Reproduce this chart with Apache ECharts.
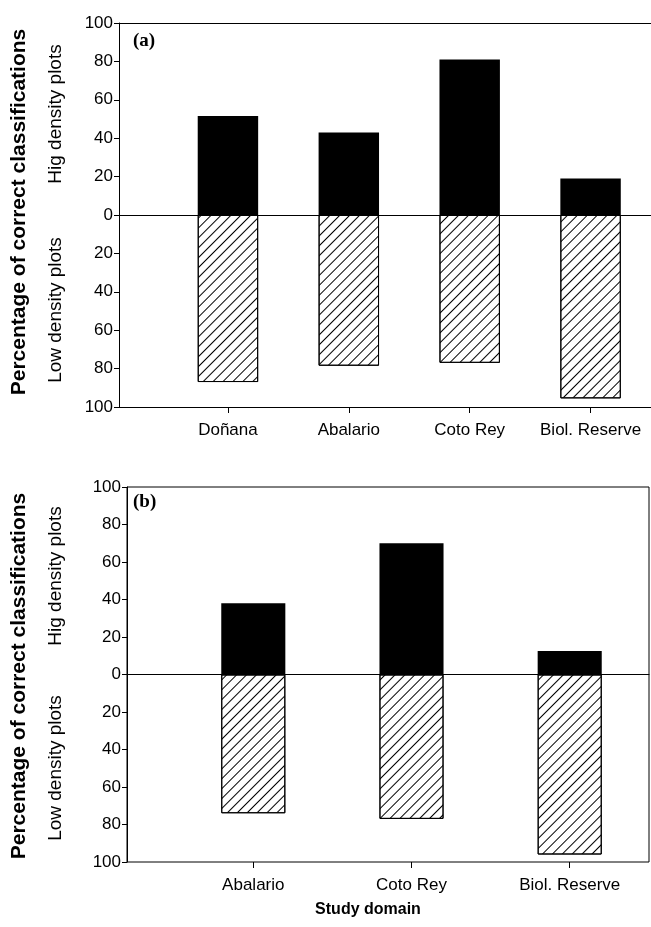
<!DOCTYPE html>
<html><head><meta charset="utf-8">
<script src="https://cdn.jsdelivr.net/npm/echarts@6/dist/echarts.min.js"></script>
<style>html,body{margin:0;padding:0;background:#fff}#c{width:651px;height:927px}</style>
</head><body><div id="c"></div>
<script>
// Panel (a)
const categoriesA = ['Doñana', 'Abalario', 'Coto Rey', 'Biol. Reserve'];
const highA = [51.5, 43, 81, 19];
const lowA = [87, 78.5, 77, 95.5];
// Panel (b)
const categoriesB = ['Abalario', 'Coto Rey', 'Biol. Reserve'];
const highB = [38, 70, 12.5];
const lowB = [74, 77, 96];
// Y axis range (high upwards, low downwards)
const yMin = -100, yMax = 100, yStep = 20;

const FONT = 'Liberation Sans';
const hatch = {
  color: '#fff', borderColor: '#000', borderWidth: 1,
  decal: { symbol: 'rect', symbolSize: 1, color: '#000', dashArrayX: [1, 0], dashArrayY: [1, 5.2], rotation: -Math.PI / 4 }
};
const tickLabel = { color: '#000', fontSize: 17, fontFamily: FONT, margin: 6, formatter: v => String(Math.abs(v)) };

function frameY(gi) {
  return { gridIndex: gi, type: 'value', min: yMin, max: yMax, interval: yStep,
    axisLine: { show: true, onZero: false, lineStyle: { color: '#000', width: 1 } },
    axisTick: { show: true, length: 5, lineStyle: { color: '#000' } },
    axisLabel: tickLabel, splitLine: { show: false } };
}
function lineX(gi, pos, onZero) {
  return { gridIndex: gi, type: 'value', min: 0, max: 1, position: pos,
    axisLine: { show: true, onZero: onZero, lineStyle: { color: '#000', width: 1 } },
    axisTick: { show: false }, axisLabel: { show: false }, splitLine: { show: false } };
}
function catX(gi, cats) {
  return { gridIndex: gi, type: 'category', data: cats,
    axisLine: { show: false, onZero: false },
    axisTick: { show: true, alignWithLabel: true, length: 6, lineStyle: { color: '#000' } },
    axisLabel: { color: '#000', fontSize: 17, fontFamily: FONT, margin: 15, interval: 0 } };
}
function hiddenY(gi) {
  return { gridIndex: gi, type: 'value', min: yMin, max: yMax, show: false };
}

const chart = echarts.init(document.getElementById('c'), null, { renderer: 'canvas' });
chart.setOption({
  animation: false,
  backgroundColor: '#fff',
  grid: [
    { left: 119, top: 23, right: 0, height: 384 },
    { left: 167.5, top: 23, width: 486, height: 384 },
    { left: 127, top: 487, width: 522, height: 375, show: true, borderColor: '#000', borderWidth: 1 },
    { left: 174.2, top: 487, width: 474.6, height: 375 }
  ],
  xAxis: [
    lineX(0, 'bottom', true), lineX(0, 'top', false), lineX(0, 'bottom', false),
    catX(1, categoriesA),
    lineX(2, 'bottom', true),
    catX(3, categoriesB)
  ],
  yAxis: [frameY(0), hiddenY(1), frameY(2), hiddenY(3)],
  series: [
    { type: 'bar', xAxisIndex: 3, yAxisIndex: 1, stack: 'a', data: highA, barCategoryGap: '50%', itemStyle: { color: '#000' } },
    { type: 'bar', xAxisIndex: 3, yAxisIndex: 1, stack: 'a', data: lowA.map(v => -v), itemStyle: hatch },
    { type: 'bar', xAxisIndex: 5, yAxisIndex: 3, stack: 'b', data: highB, barCategoryGap: '59.5%', itemStyle: { color: '#000' } },
    { type: 'bar', xAxisIndex: 5, yAxisIndex: 3, stack: 'b', data: lowB.map(v => -v), itemStyle: hatch }
  ],
  graphic: [
    { type: 'text', left: 133, top: 32, style: { text: '(a)', font: 'bold 19px "Liberation Serif"', fill: '#000' } },
    { type: 'text', left: 133, top: 493, style: { text: '(b)', font: 'bold 19px "Liberation Serif"', fill: '#000' } },
    { type: 'text', x: 19, y: 212, rotation: Math.PI / 2, style: { text: 'Percentage of correct classifications', font: 'bold 21px "Liberation Sans"', fill: '#000', align: 'center', verticalAlign: 'middle' } },
    { type: 'text', x: 56, y: 114, rotation: Math.PI / 2, style: { text: 'Hig density plots', font: '19px "Liberation Sans"', fill: '#000', align: 'center', verticalAlign: 'middle' } },
    { type: 'text', x: 56, y: 310, rotation: Math.PI / 2, style: { text: 'Low density plots', font: '19px "Liberation Sans"', fill: '#000', align: 'center', verticalAlign: 'middle' } },
    { type: 'text', x: 19, y: 676, rotation: Math.PI / 2, style: { text: 'Percentage of correct classifications', font: 'bold 21px "Liberation Sans"', fill: '#000', align: 'center', verticalAlign: 'middle' } },
    { type: 'text', x: 56, y: 576, rotation: Math.PI / 2, style: { text: 'Hig density plots', font: '19px "Liberation Sans"', fill: '#000', align: 'center', verticalAlign: 'middle' } },
    { type: 'text', x: 56, y: 768, rotation: Math.PI / 2, style: { text: 'Low density plots', font: '19px "Liberation Sans"', fill: '#000', align: 'center', verticalAlign: 'middle' } },
    { type: 'text', x: 368, y: 910, style: { text: 'Study domain', font: 'bold 16px "Liberation Sans"', fill: '#000', align: 'center', verticalAlign: 'middle' } }
  ]
});
</script>
</body></html>
